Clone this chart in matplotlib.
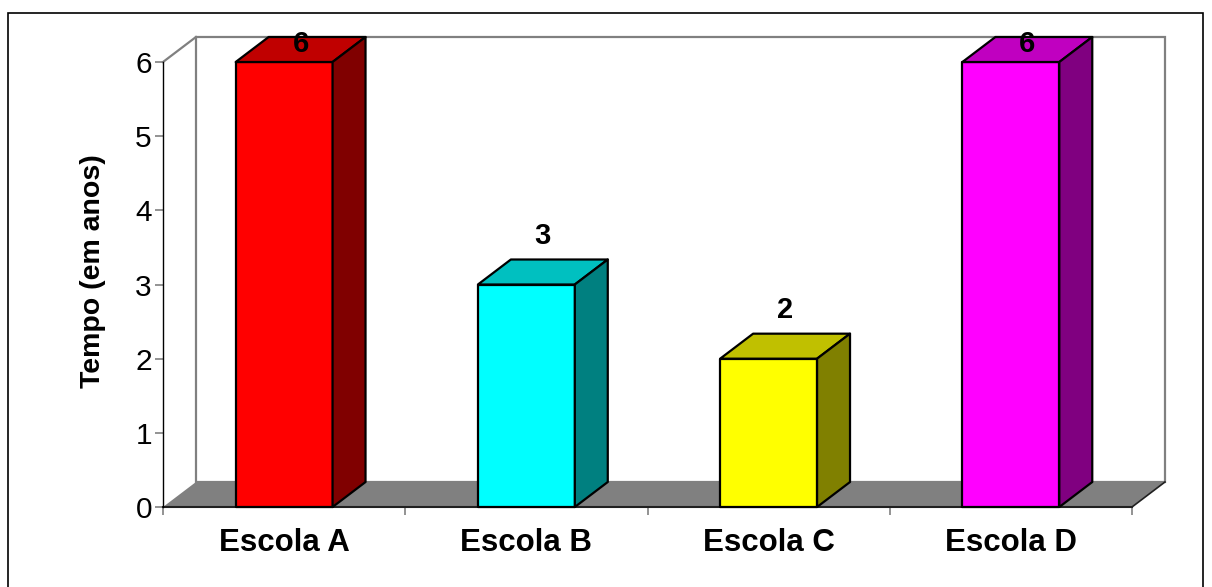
import matplotlib.pyplot as plt
from matplotlib.patches import Polygon, Rectangle

plt.rcParams['font.family'] = ['Liberation Sans', 'DejaVu Sans']

# dados
escolas = ['Escola A', 'Escola B', 'Escola C', 'Escola D']
tempo = [6, 3, 2, 6]
cor_frente = ['#FF0000', '#00FFFF', '#FFFF00', '#FF00FF']
cor_topo = ['#C00000', '#00C0C0', '#C0C000', '#C000C0']
cor_lado = ['#800000', '#008080', '#808000', '#800080']
y_ticks = [0, 1, 2, 3, 4, 5, 6]

# profundidade do efeito 3D (unidades de dados)
dx, dy = 0.136, 0.337
larg = 0.4
ymax = 6
n = len(escolas)

fig = plt.figure(figsize=(12.12, 5.87), dpi=100)
ax = fig.add_axes([163 / 1212, 1 - 507 / 587, 969 / 1212, 445 / 587])
ax.set_xlim(0, n)
ax.set_ylim(0, ymax)
ax.patch.set_visible(False)

# parede do fundo
ax.add_patch(Rectangle((dx, dy), n, ymax, facecolor='white', edgecolor='#808080',
                       lw=1.6, clip_on=False, zorder=0.5))
ax.plot([0, dx], [ymax, ymax + dy], color='#808080', lw=1.6, clip_on=False, zorder=0.6)
# chão
ax.add_patch(Polygon([(0, 0), (n, 0), (n + dx, dy), (dx, dy)], closed=True,
                     facecolor='#808080', edgecolor='none', clip_on=False, zorder=1))
ax.plot([n, n + dx], [0, dy], color='#202020', lw=1.2, clip_on=False, zorder=1.1)

# barras 3D
for i, v in enumerate(tempo):
    x0 = i + 0.5 - larg / 2
    x1 = i + 0.5 + larg / 2
    kw = dict(edgecolor='black', lw=1.6, clip_on=False, zorder=3, joinstyle='round')
    ax.add_patch(Rectangle((x0, 0), larg, v, facecolor=cor_frente[i], **kw))
    ax.add_patch(Polygon([(x0, v), (x1, v), (x1 + dx, v + dy), (x0 + dx, v + dy)],
                         closed=True, facecolor=cor_topo[i], **kw))
    ax.add_patch(Polygon([(x1, 0), (x1 + dx, dy), (x1 + dx, v + dy), (x1, v)],
                         closed=True, facecolor=cor_lado[i], **kw))
    ax.text(i + 0.5 + dx / 2, min(v + 0.65, 6.24), str(v), ha='center', va='center',
            fontsize=21, fontweight='bold', zorder=5, clip_on=False)

# eixos
for s in ['top', 'right']:
    ax.spines[s].set_visible(False)
ax.spines['left'].set_color('black')
ax.spines['left'].set_linewidth(1.0)
ax.spines['bottom'].set_color('#202020')
ax.spines['bottom'].set_linewidth(1.5)
ax.spines['bottom'].set_zorder(2)

ax.set_yticks(y_ticks)
ax.set_yticklabels([str(t) for t in y_ticks], fontsize=21.5)
ax.tick_params(axis='y', direction='out', length=6, width=1.2, color='#808080', pad=2)

ax.set_xticks(range(n + 1))
ax.set_xticklabels([])
ax.set_xticks([i + 0.5 for i in range(n)], minor=True)
ax.set_xticklabels(escolas, minor=True, fontsize=22.5, fontweight='bold')
ax.tick_params(axis='x', which='major', direction='out', length=6, width=1.2, color='#808080')
ax.tick_params(axis='x', which='minor', length=0, pad=15)

fig.text(93 / 1212, 1 - 271 / 587, 'Tempo (em anos)', rotation=90, ha='center',
         va='center', fontsize=20.5, fontweight='bold')

# moldura do gráfico
fig.add_artist(Rectangle((8 / 1212, -0.05), 1195 / 1212, 1.05 - 13 / 587,
                         transform=fig.transFigure, fill=False, edgecolor='black', lw=1.2))

fig.savefig('out.png', dpi=100)
